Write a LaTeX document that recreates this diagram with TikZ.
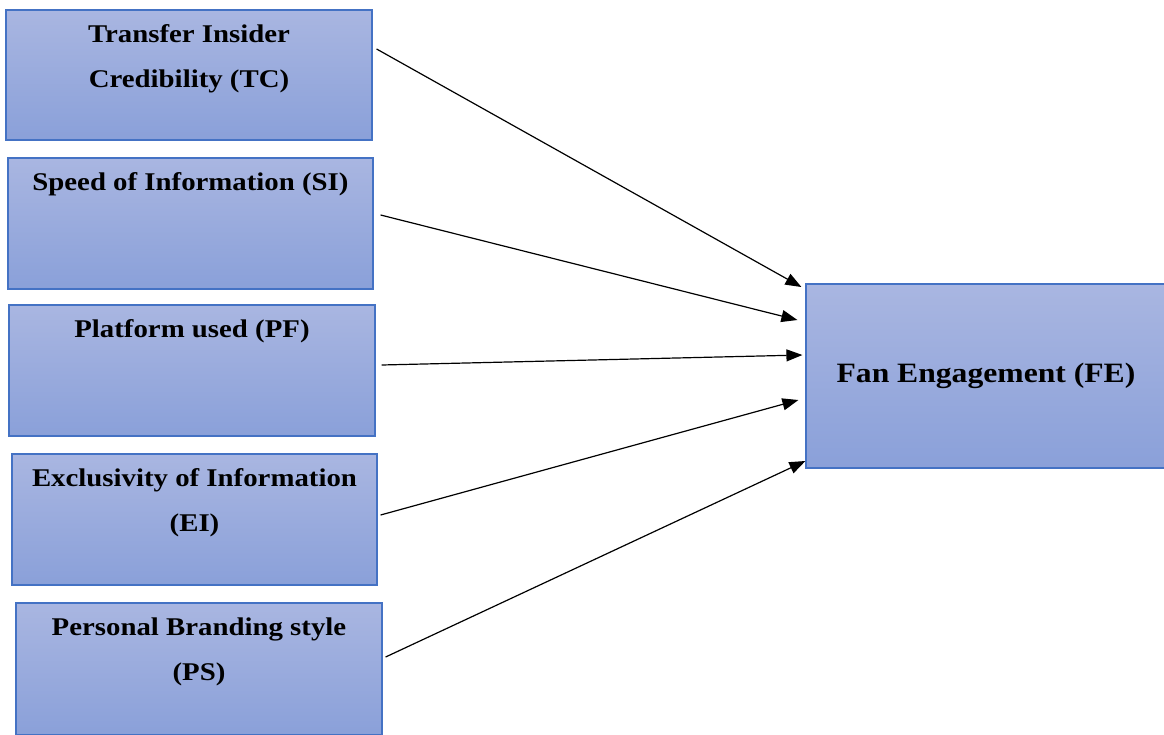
\documentclass[tikz,border=0pt]{standalone}
\usepackage{fontspec}
\setmainfont[FakeStretch=1.13]{Liberation Serif}
\usetikzlibrary{calc,arrows.meta}
\definecolor{boxline}{HTML}{4472C4}
\definecolor{boxtop}{HTML}{A9B6E1}
\definecolor{boxbot}{HTML}{8AA0D9}
\tikzset{
  box/.style={rectangle, draw=boxline, line width=1.2pt, top color=boxtop, bottom color=boxbot, inner sep=0pt},
  lbl/.style={anchor=north, align=center, inner sep=0pt, font=\fontsize{25.5}{45}\selectfont\bfseries},
  arr/.style={line width=1.2pt, -{Triangle[length=16pt,width=12pt]}},
}
\begin{document}
\begin{tikzpicture}[x=1pt,y=-1pt]
\useasboundingbox (0,0) rectangle (1164,734);
\clip (0,0) rectangle (1164,734);
\fill[white] (0,0) rectangle (1164,734);
% boxes
\node[box, minimum width=366pt, minimum height=130pt] (TC) at (189,75) {};
\node[box, minimum width=365pt, minimum height=131pt] (SI) at (190.5,223.5) {};
\node[box, minimum width=366pt, minimum height=131pt] (PF) at (192,370.5) {};
\node[box, minimum width=365pt, minimum height=131pt] (EI) at (194.5,519.5) {};
\node[box, minimum width=366pt, minimum height=132pt] (PS) at (199,669) {};
\node[box, minimum width=360pt, minimum height=184pt] (FE) at (986,376) {};
% labels
\node[lbl] (TCt) at ($(TC.north)+(0,15)$) {Transfer Insider\\Credibility (TC)};
\node[lbl] (SIt) at ($(SI.north)+(0,15)$) {Speed of Information (SI)};
\node[lbl] (PFt) at ($(PF.north)+(0,15)$) {Platform used (PF)};
\node[lbl] (EIt) at ($(EI.north)+(0,15)$) {Exclusivity of Information\\(EI)};
\node[lbl] (PSt) at ($(PS.north)+(0,15)$) {Personal Branding style\\(PS)};
\node[font=\fontsize{28}{32}\selectfont\bfseries, inner sep=0pt] (FEt) at (FE.center) {Fan Engagement (FE)};
% connectors
\draw[arr] ($(TC.east)+(4,-26)$) -- ($(FE.west)+(-4,-89)$);
\draw[arr] ($(SI.east)+(7,-8.5)$) -- ($(FE.west)+(-8,-56)$);
\draw[arr] ($(PF.east)+(6,-5.5)$) -- ($(FE.west)+(-3,-21)$);
\draw[arr] ($(EI.east)+(3,-4.5)$) -- ($(FE.west)+(-7,24)$);
\draw[arr] ($(PS.east)+(3,-12)$) -- ($(FE.west)+(0,85)$);
\end{tikzpicture}
\end{document}
